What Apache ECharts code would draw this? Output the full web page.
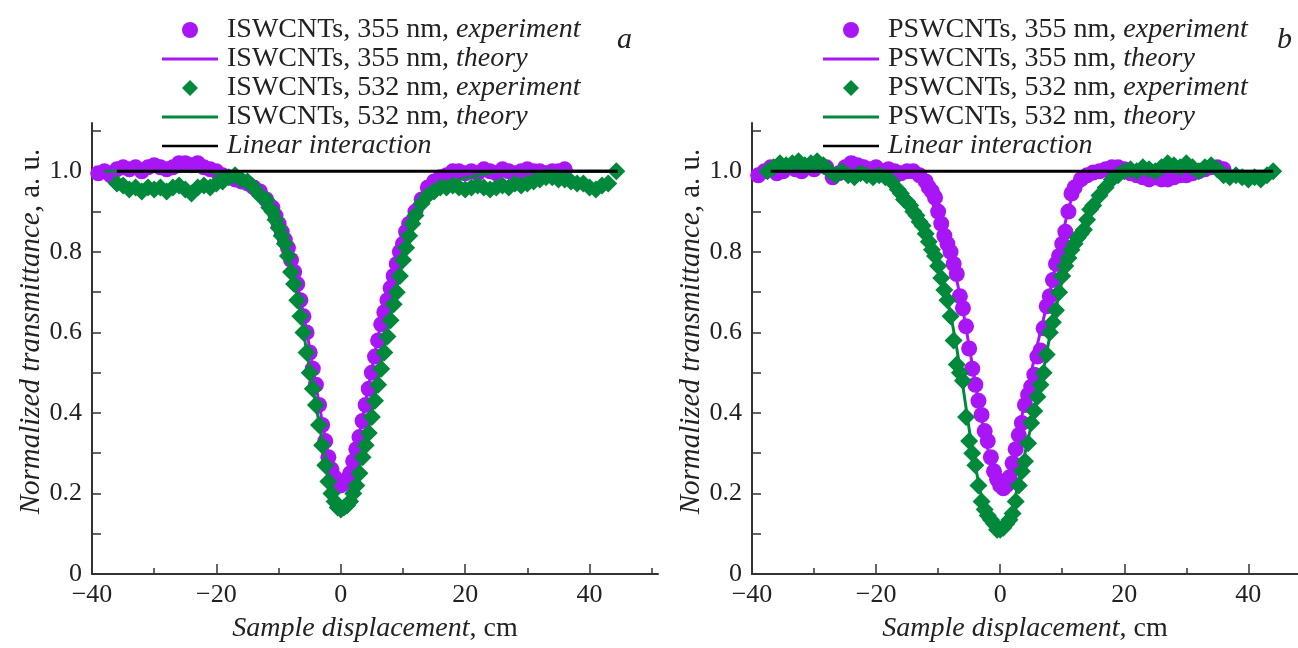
<!DOCTYPE html>
<html>
<head>
<meta charset="utf-8">
<script src="https://cdn.jsdelivr.net/npm/echarts@6/dist/echarts.min.js"></script>
<style>
html,body{margin:0;padding:0;background:#fff;}
#c{width:1298px;height:648px;}
</style>
</head>
<body>
<div id="c"></div>
<script>
// ---------- DATA ----------
// Panel a: ISWCNTs
const aExp355 = [[-39,0.995],[-38,1.0],[-37,0.99],[-36,1.005],[-35,1.01],[-34,1.005],[-33,1.01],[-32,1.0],[-31,1.01],[-30,1.015],[-29,1.01],[-28,1.005],[-27,1.01],[-26,1.02],[-25,1.02],[-24,1.015],[-23,1.02],[-22,1.01],[-21,1.005],[-20,1.0],[-19,0.99],[-18,0.985],[-17,0.98],[-16,0.975],[-15,0.97],[-14,0.96],[-13,0.95],[-12,0.93],[-11,0.91],[-10.5,0.89],[-10,0.87],[-9.5,0.85],[-9,0.83],[-8.5,0.81],[-8,0.78],[-7.5,0.75],[-7,0.72],[-6.5,0.68],[-6,0.64],[-5.5,0.6],[-5,0.55],[-4.5,0.51],[-4,0.47],[-3.5,0.42],[-3,0.37],[-2.5,0.33],[-2,0.29],[-1.5,0.26],[-1,0.24],[-0.5,0.225],[0,0.22],[0.5,0.225],[1,0.235],[1.5,0.25],[2,0.28],[2.5,0.31],[3,0.34],[3.5,0.38],[4,0.42],[4.5,0.46],[5,0.5],[5.5,0.54],[6,0.58],[6.5,0.62],[7,0.65],[7.5,0.68],[8,0.71],[8.5,0.74],[9,0.77],[9.5,0.8],[10,0.82],[10.5,0.85],[11,0.87],[12,0.9],[13,0.93],[14,0.96],[15,0.975],[16,0.985],[17,0.99],[18,1.0],[19,1.0],[20,0.995],[21,1.0],[22,0.995],[23,1.005],[24,1.0],[25,0.995],[26,1.005],[27,1.0],[28,0.995],[29,1.0],[30,1.005],[31,1.0],[32,1.0],[33,0.995],[34,1.0],[35,1.0],[36,1.005]];
const aTheo355 = [[-38,1],[-22,1],[-18,0.99],[-15,0.975],[-13,0.95],[-12,0.93],[-11,0.905],[-10,0.87],[-9,0.83],[-8,0.78],[-7,0.72],[-6,0.645],[-5,0.56],[-4,0.47],[-3,0.38],[-2,0.3],[-1,0.245],[0,0.22],[1,0.24],[2,0.28],[3,0.35],[4,0.43],[5,0.51],[6,0.59],[7,0.66],[8,0.72],[9,0.77],[10,0.82],[11,0.87],[12,0.9],[13,0.93],[15,0.965],[18,0.99],[22,1],[44,1]];
const aExp532 = [[-36,0.97],[-35,0.965],[-34,0.955],[-33,0.96],[-32,0.95],[-31,0.96],[-30,0.955],[-29,0.96],[-28,0.95],[-27,0.96],[-26,0.965],[-25,0.955],[-24,0.945],[-23,0.96],[-22,0.965],[-21,0.96],[-20,0.97],[-19,0.975],[-18,0.985],[-17,0.99],[-16,0.98],[-15,0.975],[-14,0.96],[-13,0.94],[-12,0.93],[-11.5,0.91],[-11,0.9],[-10.5,0.88],[-10,0.86],[-9.5,0.84],[-9,0.82],[-8.5,0.79],[-8,0.75],[-7.5,0.72],[-7,0.68],[-6.5,0.64],[-6,0.6],[-5.5,0.55],[-5,0.5],[-4.5,0.46],[-4,0.42],[-3.5,0.37],[-3,0.32],[-2.5,0.27],[-2,0.23],[-1.5,0.2],[-1,0.18],[-0.5,0.165],[0,0.16],[0.5,0.165],[1,0.17],[1.5,0.18],[2,0.2],[2.5,0.22],[3,0.25],[3.5,0.29],[4,0.32],[4.5,0.35],[5,0.39],[5.5,0.43],[6,0.47],[6.5,0.51],[7,0.55],[7.5,0.59],[8,0.63],[8.5,0.67],[9,0.7],[9.5,0.74],[10,0.78],[10.5,0.81],[11,0.84],[11.5,0.87],[12,0.89],[13,0.92],[14,0.94],[15,0.95],[16,0.96],[17,0.96],[18,0.965],[19,0.96],[20,0.955],[21,0.96],[22,0.965],[23,0.96],[24,0.955],[25,0.96],[26,0.965],[27,0.96],[28,0.97],[29,0.965],[30,0.97],[31,0.975],[32,0.98],[33,0.985],[34,0.985],[35,0.98],[36,0.98],[37,0.975],[38,0.97],[39,0.97],[40,0.96],[41,0.955],[42,0.965],[43,0.97],[44.3,1.0]];
const aTheo532 = [[-38,1],[-22,1],[-18,0.985],[-15,0.97],[-13,0.94],[-12,0.92],[-11,0.89],[-10,0.86],[-9,0.82],[-8,0.76],[-7,0.69],[-6,0.6],[-5,0.51],[-4,0.42],[-3,0.33],[-2,0.245],[-1,0.185],[0,0.16],[1,0.175],[2,0.21],[3,0.265],[4,0.33],[5,0.4],[6,0.48],[7,0.56],[8,0.64],[9,0.71],[10,0.78],[11,0.83],[12,0.88],[13,0.91],[15,0.95],[18,0.975],[22,0.99],[26,1],[44,1]];
const aLinear = [[-36,1],[44.5,1]];

// Panel b: PSWCNTs
const bExp355 = [[-39,0.99],[-38,1.0],[-37,1.01],[-36,0.995],[-35,1.0],[-34,1.01],[-33,1.005],[-32,1.0],[-31,1.01],[-30,1.005],[-29,1.015],[-28,1.01],[-27,0.985],[-26,0.995],[-25,1.01],[-24,1.02],[-23,1.015],[-22,1.01],[-21,1.005],[-20,1.01],[-19,1.0],[-18,1.005],[-17,1.0],[-16,0.995],[-15,1.0],[-14,1.0],[-13,0.99],[-12,0.975],[-11.5,0.96],[-11,0.95],[-10.5,0.935],[-10,0.9],[-9.5,0.87],[-9,0.84],[-8.5,0.82],[-8,0.8],[-7.5,0.77],[-7,0.745],[-6.5,0.69],[-6,0.66],[-5.5,0.615],[-5,0.56],[-4.5,0.51],[-4,0.47],[-3.5,0.43],[-3,0.395],[-2.5,0.355],[-2,0.33],[-1.5,0.29],[-1,0.255],[-0.5,0.235],[0,0.22],[0.5,0.213],[1,0.22],[1.5,0.24],[2,0.275],[2.5,0.31],[3,0.345],[3.5,0.375],[4,0.42],[4.5,0.445],[5,0.465],[5.5,0.495],[6,0.54],[6.5,0.555],[7,0.61],[7.5,0.665],[8,0.69],[8.5,0.73],[9,0.77],[9.5,0.79],[10,0.82],[10.5,0.85],[11,0.9],[11.5,0.945],[12,0.96],[13,0.98],[14,0.99],[15,0.997],[16,1.0],[17,1.005],[18,1.01],[19,1.01],[20,1.005],[21,0.995],[22,0.99],[23,0.985],[24,0.98],[25,0.985],[26,0.98],[27,0.98],[28,0.985],[29,0.99],[30,0.99],[31,0.995],[32,1.0],[33,1.005],[34,1.01],[35,1.01],[36,1.005]];
const bTheo355 = [[-39,1],[-16,1],[-14,0.99],[-13,0.975],[-12,0.955],[-11,0.925],[-10,0.885],[-9,0.84],[-8,0.79],[-7,0.73],[-6,0.655],[-5,0.565],[-4,0.475],[-3,0.385],[-2,0.31],[-1,0.25],[0,0.215],[1,0.23],[2,0.285],[3,0.355],[4,0.43],[5,0.5],[6,0.57],[7,0.635],[8,0.7],[9,0.77],[10,0.84],[11,0.905],[12,0.955],[13,0.98],[14,0.995],[16,1],[36,1]];
const bExp532 = [[-37.5,1.0],[-36.5,1.01],[-35.5,1.02],[-34.5,1.015],[-33.5,1.02],[-32.5,1.025],[-31.5,1.015],[-30.5,1.02],[-29.5,1.025],[-28.5,1.015],[-27.5,1.0],[-26.5,0.99],[-25.5,1.0],[-24.5,0.99],[-23.5,0.985],[-22.5,0.995],[-21.5,0.99],[-20.5,0.985],[-19.5,0.99],[-18.5,0.985],[-17.5,0.975],[-16.5,0.955],[-16,0.945],[-15.5,0.93],[-15,0.925],[-14.5,0.915],[-14,0.9],[-13.5,0.89],[-13,0.875],[-12.5,0.865],[-12,0.845],[-11.5,0.825],[-11,0.805],[-10.5,0.79],[-10,0.765],[-9.5,0.735],[-9,0.705],[-8.5,0.68],[-8,0.64],[-7.5,0.58],[-7,0.52],[-6.5,0.5],[-6,0.48],[-5.5,0.39],[-5,0.33],[-4.5,0.3],[-4,0.27],[-3.5,0.22],[-3,0.18],[-2.5,0.16],[-2,0.145],[-1.5,0.135],[-1,0.125],[-0.5,0.11],[0,0.11],[0.5,0.115],[1,0.125],[1.5,0.135],[2,0.15],[2.5,0.18],[3,0.22],[3.5,0.255],[4,0.28],[4.5,0.325],[5,0.375],[5.5,0.405],[6,0.44],[6.5,0.47],[7,0.5],[7.5,0.545],[8,0.6],[8.5,0.625],[9,0.655],[9.5,0.7],[10,0.74],[10.5,0.765],[11,0.785],[11.5,0.805],[12,0.82],[12.5,0.835],[13,0.845],[13.5,0.855],[14,0.88],[14.5,0.905],[15,0.915],[16,0.94],[17,0.96],[18,0.98],[19,0.99],[20,1.0],[21,1.005],[22,1.0],[23,1.01],[24,1.005],[25,1.0],[26,1.01],[27,1.02],[28,1.015],[29,1.01],[30,1.02],[31,1.01],[32,1.0],[33,1.01],[34,1.015],[35,1.005],[36,0.99],[37,0.985],[38,0.99],[39,0.985],[40,0.98],[41,0.985],[42,0.98],[43,0.99],[44,1.0]];
const bTheo532 = [[-38,1],[-24,1],[-20,0.99],[-18,0.975],[-17,0.96],[-16,0.945],[-15,0.925],[-14,0.9],[-13,0.875],[-12,0.845],[-11,0.81],[-10,0.765],[-9,0.71],[-8,0.645],[-7,0.56],[-6,0.465],[-5,0.36],[-4,0.27],[-3,0.19],[-2,0.14],[-1,0.115],[0,0.11],[1,0.125],[2,0.165],[3,0.23],[4,0.3],[5,0.37],[6,0.44],[7,0.51],[8,0.59],[9,0.66],[10,0.73],[11,0.785],[12,0.825],[13,0.855],[14,0.885],[15,0.915],[16,0.94],[17,0.96],[18,0.98],[20,0.995],[24,1],[44,1]];
const bLinear = [[-37,1],[44,1]];

// Tick values / labels
const xMajorTicks = [-40, -20, 0, 20, 40];
const xMinorTicksA = [-30, -10, 10, 30, 50];
const xMinorTicksB = [-30, -10, 10, 30];
const yTicks = [0, 0.1, 0.2, 0.3, 0.4, 0.5, 0.6, 0.7, 0.8, 0.9, 1.0, 1.1];
const yLabels = [0, 0.2, 0.4, 0.6, 0.8, 1.0];

// ---------- STYLE ----------
const FONT = 'Liberation Serif';
const PURPLE = '#a816f5';
const GREEN = '#00893b';
const AX = '#333';
const TXT = '#222';
const LINE_ICON = 'path://M0,0H56V3H0Z';
const THIN_ICON = 'path://M0,0H56V2.4H0Z';
const DIAMOND_ICON = 'path://M8,0L16,8L8,16L0,8Z';

const chart = echarts.init(document.getElementById('c'), null, {renderer: 'canvas'});

function xAxes(grid, max, minorTicks) {
  return [{
    type: 'value', gridIndex: grid, min: -40, max: max,
    axisLine: {onZero: false, lineStyle: {color: AX, width: 2}},
    axisTick: {inside: true, length: 10, customValues: xMajorTicks, lineStyle: {color: AX, width: 1.5}},
    axisLabel: {customValues: xMajorTicks, margin: 8, fontFamily: FONT, fontSize: 26, color: TXT,
      formatter: v => v < 0 ? '\u2212' + (-v) : String(v)},
    splitLine: {show: false},
    name: '{i|Sample displacement}, cm', nameLocation: 'middle', nameGap: 41,
    nameTextStyle: {fontFamily: FONT, fontSize: 28, color: TXT,
      rich: {i: {fontFamily: FONT, fontSize: 28, fontStyle: 'italic', color: TXT}}}
  }, {
    type: 'value', gridIndex: grid, min: -40, max: max, position: 'bottom',
    axisLine: {show: false},
    axisTick: {inside: true, length: 6, customValues: minorTicks, lineStyle: {color: AX, width: 1.5}},
    axisLabel: {show: false}, splitLine: {show: false}
  }];
}
function yAxis(grid) {
  return {
    type: 'value', gridIndex: grid, min: 0, max: 1.12,
    axisLine: {onZero: false, lineStyle: {color: AX, width: 2}},
    axisTick: {inside: true, length: 9, customValues: yTicks, lineStyle: {color: AX, width: 1.5}},
    axisLabel: {customValues: yLabels, margin: 10, fontFamily: FONT, fontSize: 26, color: TXT,
      formatter: v => v === 0 ? '0' : v.toFixed(1)},
    splitLine: {show: false},
    name: '{i|Normalized transmittance}, a. u.', nameLocation: 'middle', nameGap: 46,
    nameTextStyle: {fontFamily: FONT, fontSize: 29, color: TXT, padding: [0, 0, 0, 34],
      rich: {i: {fontFamily: FONT, fontSize: 29, fontStyle: 'italic', color: TXT}}}
  };
}
function legendFmt(name) {
  const k = name.lastIndexOf(', ');
  if (k < 0) return '{i|' + name + '}';
  return '{n|' + name.slice(0, k + 2) + '}{i|' + name.slice(k + 2) + '}';
}
function legend(left, prefix) {
  return {
    orient: 'vertical', left: left, top: 11, itemWidth: 56, itemHeight: 16, itemGap: 1,
    symbolKeepAspect: true,
    data: [
      {name: prefix + ', 355 nm, experiment', icon: 'circle'},
      {name: prefix + ', 355 nm, theory', icon: LINE_ICON},
      {name: prefix + ', 532 nm, experiment', icon: DIAMOND_ICON},
      {name: prefix + ', 532 nm, theory', icon: LINE_ICON},
      {name: 'Linear interaction', icon: THIN_ICON}
    ],
    selectedMode: false, formatter: legendFmt,
    textStyle: {fontFamily: FONT, fontSize: 28, color: TXT, lineHeight: 28, padding: [0, 0, 0, 4],
      rich: {n: {fontFamily: FONT, fontSize: 28, color: TXT, lineHeight: 28},
             i: {fontFamily: FONT, fontSize: 28, fontStyle: 'italic', color: TXT, lineHeight: 28}}}
  };
}
function panel(prefix, xi, yi, e355, t355, e532, t532, lin) {
  return [
    {name: prefix + ', 355 nm, experiment', type: 'scatter', xAxisIndex: xi, yAxisIndex: yi,
      symbol: 'circle', symbolSize: 16, itemStyle: {color: PURPLE, opacity: 1}, data: e355, z: 2},
    {name: prefix + ', 355 nm, theory', type: 'line', xAxisIndex: xi, yAxisIndex: yi, symbol: 'none',
      smooth: 0.3, lineStyle: {color: PURPLE, width: 3}, itemStyle: {color: PURPLE}, data: t355, z: 3},
    {name: prefix + ', 532 nm, experiment', type: 'scatter', xAxisIndex: xi, yAxisIndex: yi,
      symbol: 'diamond', symbolSize: 18, itemStyle: {color: GREEN, opacity: 1}, data: e532, z: 4},
    {name: prefix + ', 532 nm, theory', type: 'line', xAxisIndex: xi, yAxisIndex: yi, symbol: 'none',
      smooth: 0.3, lineStyle: {color: GREEN, width: 3}, itemStyle: {color: GREEN}, data: t532, z: 5},
    {name: 'Linear interaction', type: 'line', xAxisIndex: xi, yAxisIndex: yi, symbol: 'none',
      lineStyle: {color: '#000', width: 3}, itemStyle: {color: '#000'}, data: lin, z: 6}
  ];
}

const option = {
  animation: false,
  backgroundColor: '#fff',
  grid: [
    {left: 92, top: 123, width: 566, height: 458},
    {left: 752, top: 123, width: 546, height: 458}
  ],
  xAxis: [...xAxes(0, 51, xMinorTicksA), ...xAxes(1, 48, xMinorTicksB)],
  yAxis: [yAxis(0), yAxis(1)],
  legend: [legend(157, 'ISWCNTs'), legend(818, 'PSWCNTs')],
  graphic: [
    {type: 'text', left: 617, top: 25, style: {text: 'a', fontFamily: FONT, fontSize: 30, fontStyle: 'italic', fill: TXT}},
    {type: 'text', left: 1277, top: 25, style: {text: 'b', fontFamily: FONT, fontSize: 30, fontStyle: 'italic', fill: TXT}}
  ],
  series: [
    ...panel('ISWCNTs', 0, 0, aExp355, aTheo355, aExp532, aTheo532, aLinear),
    ...panel('PSWCNTs', 2, 1, bExp355, bTheo355, bExp532, bTheo532, bLinear)
  ]
};
chart.setOption(option);
</script>
</body>
</html>
